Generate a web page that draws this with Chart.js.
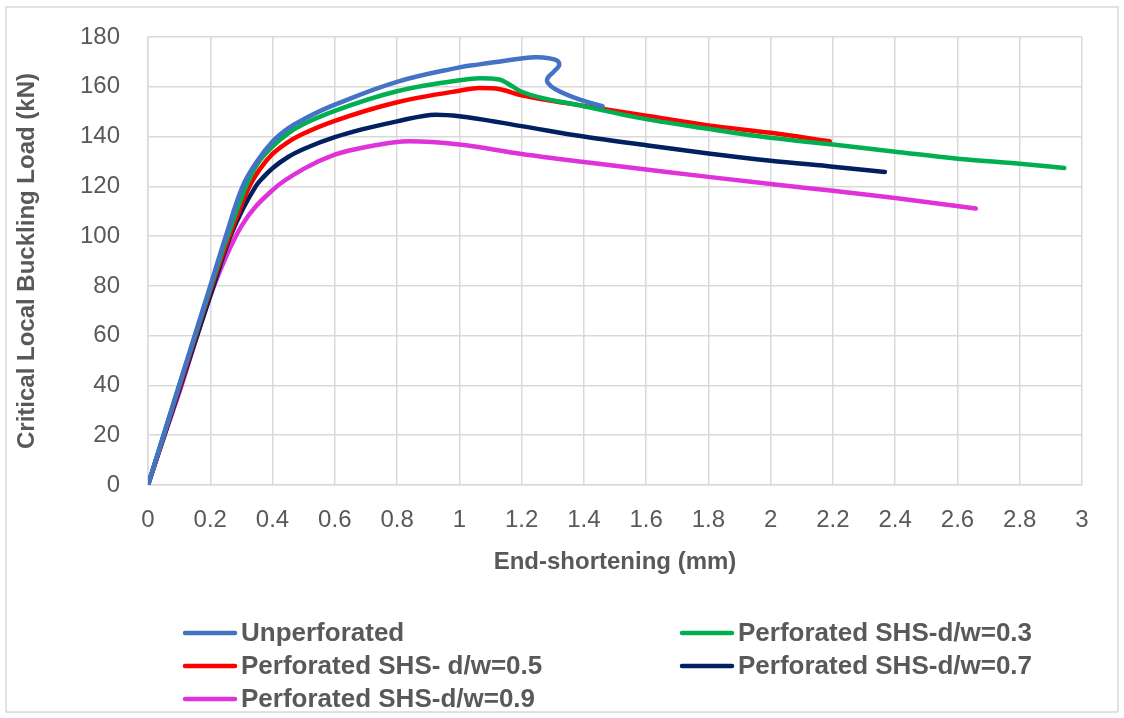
<!DOCTYPE html>
<html>
<head>
<meta charset="utf-8">
<script src="https://cdn.jsdelivr.net/npm/chart.js@4"></script>
<style>
  html, body { margin: 0; padding: 0; background: #fff; }
  #wrap { width: 1124px; height: 718px; }
</style>
</head>
<body>
<div id="wrap"><canvas id="chart" width="1124" height="718"></canvas></div>
<script>
// series labels
const seriesNames = [
  'Unperforated',
  'Perforated SHS-d/w=0.3',
  'Perforated SHS- d/w=0.5',
  'Perforated SHS-d/w=0.7',
  'Perforated SHS-d/w=0.9'
];
const seriesColors = ['#4472C4', '#00B050', '#FF0000', '#002060', '#DF32D8'];

// end-shortening (mm) / load (kN)
const unpX = [0, 0.1, 0.2, 0.25, 0.304, 0.35, 0.4, 0.45, 0.5, 0.6, 0.8, 1.0, 1.064, 1.2, 1.246, 1.305, 1.321, 1.305, 1.284, 1.284, 1.31, 1.385, 1.46];
const unpY = [0, 40, 80, 100, 120, 130, 138, 143.3, 147, 152.8, 162, 167.8, 169, 171.4, 171.9, 171, 169, 166.3, 163.6, 161.6, 158.9, 154.9, 152.2];

const d03X = [0, 0.1, 0.2, 0.25, 0.315, 0.35, 0.4, 0.45, 0.5, 0.6, 0.8, 1.0, 1.064, 1.128, 1.17, 1.2, 1.4, 1.6, 1.8, 2.0, 2.2, 2.4, 2.6, 2.8, 2.943];
const d03Y = [0, 40, 79, 98, 120, 128.8, 136, 141.3, 145, 150.3, 158.2, 162.6, 163.4, 162.9, 160.2, 158, 152.2, 147, 143.1, 139.5, 136.8, 133.9, 131.1, 129.1, 127.4];

const d05X = [0, 0.1, 0.2, 0.25, 0.326, 0.36, 0.4, 0.45, 0.5, 0.6, 0.8, 1.0, 1.064, 1.117, 1.2, 1.4, 1.6, 1.8, 2.0, 2.19];
const d05Y = [0, 39, 78, 96, 120, 127, 133, 137.8, 141.2, 146.3, 153.8, 158.4, 159.5, 159.3, 156.6, 152.3, 148.4, 144.5, 141.5, 138.1];

const d07X = [0, 0.1, 0.2, 0.265, 0.346, 0.37, 0.4, 0.45, 0.5, 0.6, 0.8, 0.924, 1.0, 1.2, 1.4, 1.6, 1.8, 2.0, 2.2, 2.367];
const d07Y = [0, 38, 76, 100, 120, 123.6, 127.3, 131.8, 135, 139.8, 146.1, 148.8, 148.2, 144.2, 140, 136.5, 133.2, 130.3, 127.9, 125.8];

const d09X = [0, 0.053, 0.1, 0.2, 0.3, 0.4, 0.5, 0.6, 0.7, 0.84, 1.0, 1.2, 1.4, 1.6, 1.8, 2.0, 2.2, 2.4, 2.659];
const d09Y = [0, 20, 37, 76, 104, 118.5, 127, 132.7, 135.8, 138.1, 136.8, 133, 129.8, 126.8, 123.8, 120.9, 118.2, 115.3, 111.1];

const seriesX = [unpX, d03X, d05X, d07X, d09X];
const seriesY = [unpY, d03Y, d05Y, d07Y, d09Y];

const xTitle = 'End-shortening (mm)';
const yTitle = 'Critical Local Buckling Load (kN)';

const FONT = "'Liberation Sans', Arial, sans-serif";
const TEXT = '#595959';
const GRID = '#D9D9D9';

const datasets = seriesNames.map((name, i) => ({
  label: name,
  data: seriesX[i].map((x, j) => ({ x: x, y: seriesY[i][j] })),
  borderColor: seriesColors[i],
  backgroundColor: seriesColors[i],
  borderWidth: 4.5,
  pointRadius: 0,
  showLine: true,
  // the unperforated curve folds back on itself, so it can't use monotone
  cubicInterpolationMode: i === 0 ? 'default' : 'monotone',
  tension: 0.4,
  borderCapStyle: 'round',
  borderJoinStyle: 'round'
}));

// frame around the whole chart
const framePlugin = {
  id: 'frame',
  beforeDraw(chart) {
    const ctx = chart.ctx;
    ctx.save();
    ctx.fillStyle = '#fff';
    ctx.fillRect(0, 0, chart.width, chart.height);
    ctx.strokeStyle = GRID;
    ctx.lineWidth = 1.5;
    ctx.strokeRect(6, 7, 1112, 705);
    ctx.restore();
  }
};

// two-column legend under the plot
const legendPlugin = {
  id: 'colLegend',
  afterDraw(chart) {
    const ctx = chart.ctx;
    const cols = [183, 680];
    const rows = [633, 666, 699];
    ctx.save();
    ctx.font = 'bold 26px ' + FONT;
    ctx.textBaseline = 'middle';
    ctx.textAlign = 'left';
    chart.data.datasets.forEach((ds, i) => {
      const x = cols[i % 2];
      const y = rows[Math.floor(i / 2)];
      ctx.strokeStyle = ds.borderColor;
      ctx.lineWidth = 4.5;
      ctx.lineCap = 'round';
      ctx.beginPath();
      ctx.moveTo(x + 2, y);
      ctx.lineTo(x + 52, y);
      ctx.stroke();
      ctx.fillStyle = TEXT;
      ctx.fillText(ds.label, x + 58, y + 1);
    });
    ctx.restore();
  }
};

new Chart(document.getElementById('chart'), {
  type: 'scatter',
  data: { datasets: datasets },
  options: {
    responsive: false,
    animation: false,
    layout: { padding: { left: 0, top: 37, right: 42, bottom: 138 } },
    plugins: {
      legend: { display: false },
      tooltip: { enabled: false }
    },
    scales: {
      x: {
        type: 'linear',
        min: 0,
        max: 3,
        afterFit(scale) { scale.height = 95; },
        ticks: {
          stepSize: 0.2,
          padding: 21,
          color: TEXT,
          font: { family: FONT, size: 24 },
          callback: v => String(Number(v.toFixed(1)))
        },
        grid: { color: GRID, lineWidth: 1.5, drawTicks: false },
        border: { color: GRID, width: 1.5 },
        title: {
          display: true,
          text: xTitle,
          color: TEXT,
          font: { family: FONT, size: 24, weight: 'bold' },
          padding: { top: 0, bottom: 3 }
        }
      },
      y: {
        type: 'linear',
        min: 0,
        max: 180,
        afterFit(scale) {
          scale.width = 148;
          // tick padding would otherwise push the plot top down
          scale.paddingTop = 15;
          scale.paddingBottom = 15;
        },
        ticks: {
          stepSize: 20,
          padding: 28,
          color: TEXT,
          font: { family: FONT, size: 24 }
        },
        grid: { color: GRID, lineWidth: 1.5, drawTicks: false },
        border: { color: GRID, width: 1.5 },
        title: {
          display: true,
          text: yTitle,
          color: TEXT,
          font: { family: FONT, size: 24, weight: 'bold' },
          padding: { top: 13, bottom: 0 }
        }
      }
    }
  },
  plugins: [framePlugin, legendPlugin]
});
</script>
</body>
</html>
